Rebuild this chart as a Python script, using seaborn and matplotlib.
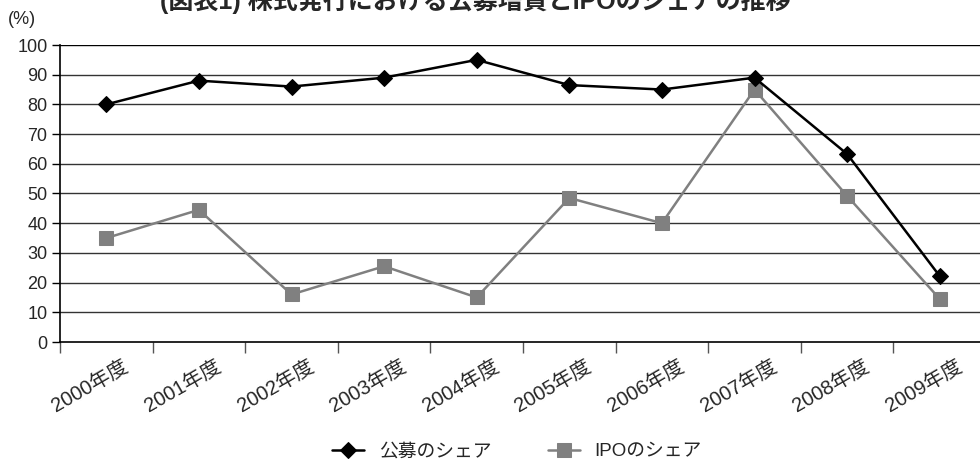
import matplotlib
matplotlib.use("Agg")
import matplotlib.pyplot as plt
import seaborn as sns
import pandas as pd

# Fiscal years and shares (%)
years = ["2000年度", "2001年度", "2002年度", "2003年度", "2004年度",
         "2005年度", "2006年度", "2007年度", "2008年度", "2009年度"]
public_offering_share = [80, 88, 86, 89, 95, 86.5, 85, 89, 63.3, 22.2]
ipo_share = [35, 44.5, 16, 25.5, 15, 48.5, 40, 85, 49.2, 14.5]

series_names = ["公募のシェア", "IPOのシェア"]
y_ticks = list(range(0, 101, 10))

sns.set_theme(style="white")
plt.rcParams["font.family"] = ["Liberation Sans", "Noto Sans CJK JP", "DejaVu Sans"]

fig = plt.figure(figsize=(9.8, 4.61), dpi=100)
ax = fig.add_axes([60 / 980, 1 - 342 / 461, 926 / 980, 297 / 461])

df = pd.DataFrame({"year": years,
                   series_names[0]: public_offering_share,
                   series_names[1]: ipo_share})
pos = list(range(len(years)))

sns.lineplot(x=pos, y=df[series_names[0]], ax=ax, color="black", lw=1.8,
             marker="D", markersize=8.5, markeredgecolor="black",
             label=series_names[0], zorder=4)
sns.lineplot(x=pos, y=df[series_names[1]], ax=ax, color="#808080", lw=1.8,
             marker="s", markersize=9.5, markeredgecolor="#808080",
             label=series_names[1], zorder=3)

ax.set_xlim(-0.5, len(years) - 0.5)
ax.set_ylim(0, 100)
ax.set_yticks(y_ticks)
ax.set_yticklabels([str(v) for v in y_ticks], fontsize=13)
for v in y_ticks[1:]:
    ax.axhline(v, color="#333333" if v < 100 else "black", lw=1.0, zorder=1)

# Category ticks sit between the years
ax.set_xticks([p - 0.5 for p in pos], minor=False)
ax.set_xticklabels([])
ax.set_xticks(pos, minor=True)
ax.set_xticklabels(years, minor=True, rotation=30, ha="right", va="top",
                   rotation_mode="anchor", fontsize=14.5)
ax.tick_params(axis="x", which="major", direction="out", length=8, width=1,
               color="#555555", bottom=True)
ax.tick_params(axis="x", which="minor", length=0, pad=9)
ax.tick_params(axis="y", direction="out", length=6, width=1, color="black",
               left=True, pad=3)
for lbl in ax.get_xticklabels(minor=True):
    lbl.set_transform(lbl.get_transform() +
                      matplotlib.transforms.ScaledTranslation(16 / 100, -2 / 100,
                                                              fig.dpi_scale_trans))

for side in ["top", "right"]:
    ax.spines[side].set_visible(False)
for side in ["left", "bottom"]:
    ax.spines[side].set_color("black")
    ax.spines[side].set_linewidth(1.2)
ax.set_xlabel("")
ax.set_ylabel("")

ax.legend(loc="center", bbox_to_anchor=(517 / 980, 1 - 452 / 461),
          bbox_transform=fig.transFigure, ncol=2, frameon=False,
          fontsize=13.5, handlelength=1.7, columnspacing=3.0, handletextpad=0.8)

fig.text(8 / 980, 1 - 19 / 461, "(%)", fontsize=13, va="center", ha="left")
fig.text(475 / 980, 1 - 1 / 461, "(図表1) 株式発行における公募増資とIPOのシェアの推移",
         fontsize=18, fontweight="bold", ha="center", va="center")

fig.savefig("out.png", dpi=100)
